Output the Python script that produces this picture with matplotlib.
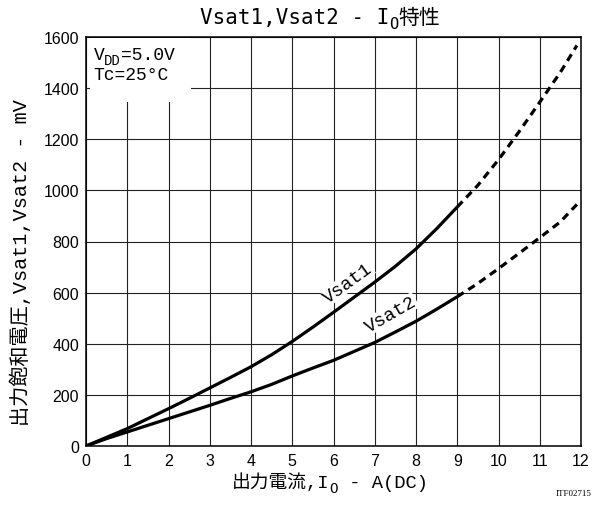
import matplotlib
matplotlib.use("Agg")
import matplotlib.pyplot as plt
from matplotlib.patches import Rectangle
from matplotlib.text import Annotation

# data (A, mV)
current = [0, 0.5, 1, 1.5, 2, 2.5, 3, 3.5, 4, 4.5, 5, 5.5, 6, 6.5, 7, 7.5, 8, 8.5, 9,
           9.5, 10, 10.5, 11, 11.5, 11.9]
vsat1 = [0, 34, 68, 107, 146, 186, 227, 268, 310, 357, 409, 465, 523, 582, 641, 703, 771,
         850, 935, 1020, 1120, 1230, 1345, 1462, 1567]
vsat2 = [0, 29, 55, 81, 107, 133, 159, 186, 212, 241, 274, 305, 335, 370, 405, 446, 488,
         535, 584, 636, 694, 754, 815, 877, 945]
split = 18  # index of 9 A: solid before, dashed after
x_ticks = list(range(0, 13))
y_ticks = list(range(0, 1601, 200))

serif = ['Liberation Mono', 'Noto Sans CJK JP']
gothic = ['DejaVu Sans Mono', 'Noto Sans CJK JP']
tickfont = ['Liberation Sans Narrow', 'Liberation Sans']

fig = plt.figure(figsize=(5.97, 5.06), dpi=100)
ax = fig.add_axes([86/597, 1 - 447/506, 495/597, 409/506])

for v in (vsat1, vsat2):
    ax.plot(current[:split + 1], v[:split + 1], color='black', lw=2.3,
            solid_capstyle='butt', zorder=4)
    ax.plot(current[split:], v[split:], color='black', lw=2.3,
            dashes=(2.4, 1.7), zorder=4)

ax.set_xlim(0, 12)
ax.set_ylim(0, 1600)
ax.set_xticks(x_ticks)
ax.set_yticks(y_ticks)
ax.grid(True, color='#222222', lw=0.8)
ax.tick_params(length=0, pad=5)
for lab in ax.get_xticklabels() + ax.get_yticklabels():
    lab.set_family(tickfont)
    lab.set_fontsize(11.5)
for s in ax.spines.values():
    s.set_linewidth(1.1)

# condition box
ax.add_patch(Rectangle((0.1, 1345), 2.45, 250, fc='white', ec='none', zorder=3))
t = ax.text(0.18, 1500, 'V', family=serif, fontsize=13, va='bottom', zorder=5)
t = ax.annotate('DD', xy=(1, 0), xycoords=t, xytext=(0, -3), textcoords='offset points',
                family=serif, fontsize=10, va='bottom', zorder=5)
ax.annotate('=5.0V', xy=(1, 0), xycoords=t, xytext=(0, 3), textcoords='offset points',
            family=serif, fontsize=13, va='bottom', zorder=5)
ax.text(0.18, 1420, 'Tc=25°C', family=serif, fontsize=13, va='bottom', zorder=5)

# curve labels
ax.text(6.35, 640, 'Vsat1', family=serif, fontsize=13.5, rotation=36,
        ha='center', va='center', bbox=dict(fc='white', ec='none', pad=0.2), zorder=3)
ax.text(7.4, 518, 'Vsat2', family=serif, fontsize=13.5, rotation=30,
        ha='center', va='center', bbox=dict(fc='white', ec='none', pad=0.2), zorder=3)

# title with subscript
t0 = fig.text(200/597, 1 - 28/506, 'Vsat1,Vsat2 - I', family=gothic, fontsize=15,
              va='bottom')
t1 = fig.add_artist(Annotation('O', xy=(1, 0), xycoords=t0, xytext=(0, -3),
                               textcoords='offset points', family=gothic,
                               fontsize=11, va='bottom'))
fig.add_artist(Annotation('特性', xy=(1, 0), xycoords=t1, xytext=(0, 3),
                          textcoords='offset points', family=gothic,
                          fontsize=15, va='bottom'))

# x label with subscript
xl = fig.text(232/597, 1 - 492/506, '出力電流,I', family=serif, fontsize=13.5, va='bottom')
xs = fig.add_artist(Annotation('O', xy=(1, 0), xycoords=xl, xytext=(0, -3),
                               textcoords='offset points', family=serif,
                               fontsize=10, va='bottom'))
fig.add_artist(Annotation(' - A(DC)', xy=(1, 0), xycoords=xs, xytext=(0, 3),
                          textcoords='offset points', family=serif,
                          fontsize=13.5, va='bottom'))

# y label
fig.text(20/597, 1 - 263/506, '出力飽和電圧,Vsat1,Vsat2 - mV', family=serif, fontsize=14.5,
         rotation=90, ha='center', va='center')

fig.text(592/597, 1 - 498/506, 'ITF02715', family=['Liberation Serif'], fontsize=6.5,
         ha='right', va='bottom')

fig.savefig('out.png', dpi=100)
